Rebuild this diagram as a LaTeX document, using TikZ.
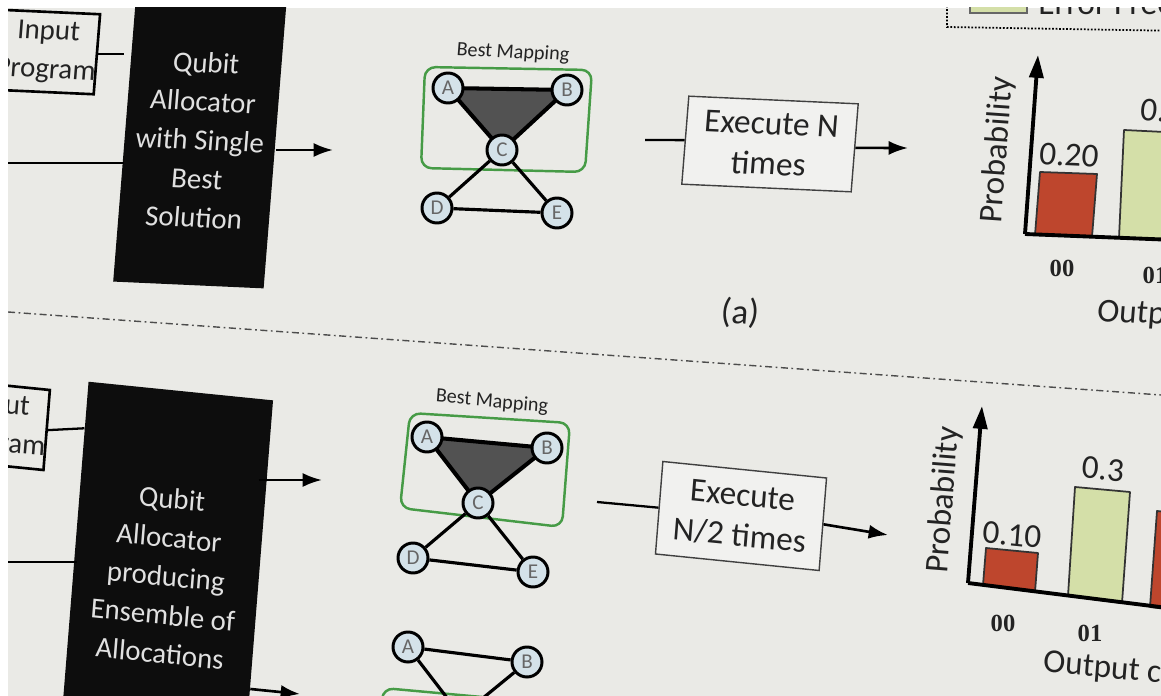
\documentclass[tikz,border=0pt]{standalone}
\usepackage{fontspec}
\setmainfont{Carlito}
\newfontfamily\numfont{Liberation Serif}
\usetikzlibrary{arrows.meta}

\definecolor{screen}{RGB}{234,234,230}
\definecolor{nodefill}{RGB}{212,226,233}
\definecolor{barred}{RGB}{190,70,45}
\definecolor{bargreen}{RGB}{212,223,168}
\definecolor{mapgreen}{RGB}{70,155,70}
\definecolor{ink}{RGB}{35,35,35}

\begin{document}
\begin{tikzpicture}[x=0.02cm,y=-0.02cm,
	tiltA/.style={xslant=0.08,yslant=-0.045},
	tiltB/.style={xslant=0.08,yslant=-0.1},
	txt/.style={font=\fontsize{16.5}{22}\selectfont,text=ink,align=center,inner sep=0pt},
	big/.style={font=\fontsize{19}{23}\selectfont},
	inbox/.style={txt,draw=black,line width=1.5pt,minimum width=2.0cm,minimum height=1.6cm},
	alloc/.style={txt,fill=black!95,text=white!88!black,minimum width=3.02cm},
	exbox/.style={txt,big,draw=black!75,line width=0.8pt,fill=white!35!screen,minimum width=3.4cm,minimum height=1.76cm},
	qubit/.style={circle,draw=black,line width=1.7pt,fill=nodefill,minimum size=0.6cm,inner sep=0pt,font=\fontsize{12}{12}\selectfont,text=black!60},
	edge/.style={line width=1.8pt},
	arr/.style={line width=1.5pt,-{Latex[length=11pt,width=8pt]}},
	lbl/.style={font=\fontsize{11.5}{12}\selectfont,text=ink,inner sep=0pt},
	bit/.style={font=\numfont\bfseries\fontsize{14}{14}\selectfont,text=ink},
	bar/.style={draw=black!80,line width=1pt,line join=round},
	mapbox/.style={draw=mapgreen,line width=1.4pt,rounded corners=6pt},
	axis/.style={line width=2.2pt,-{Triangle[length=13pt,width=8pt]}}]

	% Hintergrund
	\useasboundingbox (0,0) rectangle (1161,696);
	\fill[white] (0,0) rectangle (1161,696);
	\clip (8,8) rectangle (1161,696);
	\fill[screen] (8,8) rectangle (1161,696);

	% Trennlinie
	\draw[black!70,line width=0.8pt,dash pattern=on 4pt off 2pt on 1pt off 2pt] (8,312) -- (1161,395);

	% ---------------- (a) ----------------
	% Legende
	\draw[densely dotted,line width=1pt] (947,-40) -- (947,27) -- (1300,33);
	\filldraw[fill=bargreen,draw=black!60,line width=0.6pt] (970,-10) rectangle (1027,13);
	\node[txt,big,anchor=base west] (errA) at (1038,15) {Error Free};

	% Eingang und Allokator
	\node[inbox,tiltA] (inA) at (47,52) {Input\\Program};
	\node[alloc,tiltA,minimum height=5.8cm] (qa) at (200,140) {Qubit\\Allocator\\with Single\\Best\\Solution};
	\coordinate (inA2) at (8,163);
	\coordinate (mapA) at (333,150);
	\draw[line width=1.3pt] (inA.east) -- (inA.east -| qa.west);
	\draw[line width=1.3pt] (inA2) -- (inA2 -| qa.west);
	\draw[arr] (qa.east |- mapA) -- (mapA);

	% Abbildung
	\node[lbl,tiltA] (bmA) at (513,53) {Best Mapping};
	\draw[mapbox] (425,67) -- (592,70) -- (585,172) -- (421,168) -- cycle;
	\coordinate (pA) at (448,88);
	\coordinate (pB) at (567,90);
	\coordinate (pC) at (502,150);
	\filldraw[fill=black!68,line width=2.3pt,line join=round] (pA) -- (pB) -- (pC) -- cycle;
	\node[qubit] (A) at (pA) {A};
	\node[qubit] (B) at (pB) {B};
	\node[qubit] (C) at (pC) {C};
	\node[qubit] (D) at (437,208) {D};
	\node[qubit] (E) at (557,213) {E};
	\draw[edge] (C) -- (D);
	\draw[edge] (C) -- (E);
	\draw[edge] (D) -- (E);

	% Ausfuehrung
	\coordinate (exInA) at (645,140);
	\coordinate (chartA) at (908,148);
	\node[exbox,tiltA] (exA) at (770,144) {Execute N\\times};
	\draw[line width=1.3pt] (exInA) -- (exA.west);
	\draw[arr] (exA.east) -- (chartA);

	% Histogramm
	\filldraw[fill=barred,bar] (1035,235) -- (1040,172) -- (1097,174) -- (1092,237) -- cycle;
	\filldraw[fill=bargreen,bar] (1119,238) -- (1124,130) -- (1185,133) -- (1180,240) -- cycle;
	\draw[axis] (1025,234) -- (1038,55);
	\draw[line width=2.2pt] (1025,234) -- (1200,241);
	\node[txt,big,rotate=86] (probA) at (998,150) {Probability};
	\node[txt,big,tiltA] (vA1) at (1069,155) {0.20};
	\node[txt,big,tiltA] (vA2) at (1170,111) {0.30};
	\node[bit] (bA1) at (1062,268) {00};
	\node[bit] (bA2) at (1155,275) {01};
	\node[txt,big,tiltA,anchor=west] (outA) at (1097,313) {Output c};
	\node[txt,tiltA,font=\fontsize{20}{20}\selectfont] (capA) at (740,313) {(a)};

	% ---------------- (b) ----------------
	% Eingang und Allokator
	\node[inbox,tiltB] (inB) at (-3,425) {Input\\Program};
	\node[alloc,tiltB,minimum width=3.72cm,minimum height=7.4cm] (qb) at (166,576) {Qubit\\Allocator\\producing\\Ensemble of\\Allocations};
	\coordinate (inB2) at (8,562);
	\coordinate (mapB) at (322,480);
	\coordinate (mapB2) at (300,694);
	\draw[line width=1.3pt] (inB.east) -- (qb.124.3);
	\draw[line width=1.3pt] (inB2) -- ([xshift=2pt]inB2 -| qb.west);
	\draw[arr] (qb.east |- mapB) -- (mapB);
	\draw[arr] (qb.-48.4) -- (mapB2);

	% Abbildungen
	\node[lbl,tiltB] (bmB) at (492,402) {Best Mapping};
	\draw[mapbox] (410,413) -- (570,423) -- (562,527) -- (400,508) -- cycle;
	\coordinate (pA2) at (427,437);
	\coordinate (pB2) at (547,448);
	\coordinate (pC2) at (478,503);
	\filldraw[fill=black!68,line width=2.3pt,line join=round] (pA2) -- (pB2) -- (pC2) -- cycle;
	\node[qubit] (A2) at (pA2) {A};
	\node[qubit] (B2) at (pB2) {B};
	\node[qubit] (C2) at (pC2) {C};
	\node[qubit] (D2) at (413,558) {D};
	\node[qubit] (E2) at (533,572) {E};
	\draw[edge] (C2) -- (D2);
	\draw[edge] (C2) -- (E2);
	\draw[edge] (D2) -- (E2);

	\draw[mapbox] (383,688) -- (548,703) -- (540,800) -- (375,785) -- cycle;
	\node[qubit] (A3) at (408,647) {A};
	\node[qubit] (B3) at (527,662) {B};
	\node[qubit] (C3) at (461,716) {C};
	\draw[edge] (A3) -- (B3);
	\draw[edge] (A3) -- (C3);
	\draw[edge] (B3) -- (C3);

	% Ausfuehrung
	\coordinate (exInB) at (597,502);
	\coordinate (chartB) at (888,535);
	\node[exbox,tiltB,minimum width=3.3cm,minimum height=1.85cm] (exB) at (741,516) {Execute\\N/2 times};
	\draw[line width=1.3pt] (exInB) -- (exB.west);
	\draw[arr] (exB.east) -- (chartB);

	% Histogramm
	\filldraw[fill=barred,bar] (983,585) -- (986,548) -- (1038,553) -- (1035,592) -- cycle;
	\filldraw[fill=bargreen,bar] (1068,596) -- (1075,487) -- (1130,492) -- (1122,603) -- cycle;
	\filldraw[fill=barred,bar] (1150,607) -- (1157,511) -- (1215,517) -- (1208,614) -- cycle;
	\draw[axis] (968,583) -- (982,406);
	\draw[line width=2.2pt] (968,583) -- (1200,612);
	\node[txt,big,rotate=85.5] (probB) at (944,500) {Probability};
	\node[txt,big,tiltB] (vB1) at (1012,535) {0.10};
	\node[txt,big,tiltB] (vB2) at (1103,469) {0.3};
	\node[txt,big,tiltB] (vB3) at (1190,499) {0.60};
	\node[bit] (bB1) at (1003,623) {00};
	\node[bit] (bB2) at (1090,633) {01};
	\node[txt,big,tiltB,anchor=west] (outB) at (1043,663) {Output c};
\end{tikzpicture}
\end{document}
